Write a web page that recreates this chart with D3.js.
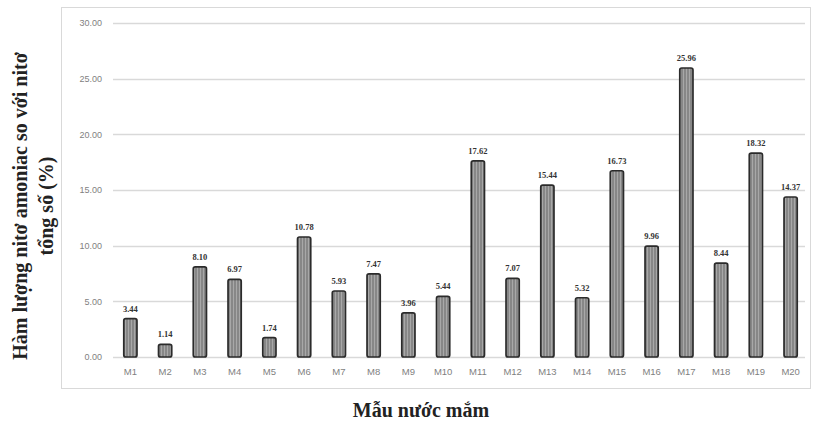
<!DOCTYPE html>
<html>
<head>
<meta charset="utf-8">
<script src="https://cdn.jsdelivr.net/npm/d3@7"></script>
<style>
  html, body { margin: 0; padding: 0; background: #fff; }
  svg { display: block; }
</style>
</head>
<body>
<svg id="chart" width="813" height="425"></svg>
<script>
// Sample codes and ammonia nitrogen share of total nitrogen (%)
const samples = ["M1","M2","M3","M4","M5","M6","M7","M8","M9","M10",
                 "M11","M12","M13","M14","M15","M16","M17","M18","M19","M20"];
const ammoniaPct = [3.44, 1.14, 8.10, 6.97, 1.74, 10.78, 5.93, 7.47, 3.96, 5.44,
                    17.62, 7.07, 15.44, 5.32, 16.73, 9.96, 25.96, 8.44, 18.32, 14.37];
const yTicks = [0, 5, 10, 15, 20, 25, 30];

const yTitleLines = ["Hàm lượng nitơ amoniac so với nitơ", "tổng số (%)"];
const xTitle = "Mẫu nước mắm";

const svg = d3.select("#chart");
const plot = { left: 113, right: 808, top: 23, bottom: 357 };

// Hatched fill for the bars
const defs = svg.append("defs");
const pat = defs.append("pattern")
  .attr("id", "hatch").attr("patternUnits", "userSpaceOnUse")
  .attr("width", 3).attr("height", 3);
pat.append("rect").attr("width", 3).attr("height", 3).attr("fill", "#a8a8a8");
pat.append("line").attr("x1", 1).attr("x2", 1).attr("y1", 0).attr("y2", 3)
  .attr("stroke", "#666").attr("stroke-width", 1);

// Chart area frame
svg.append("rect")
  .attr("x", 61.5).attr("y", 7.5).attr("width", 749).attr("height", 381)
  .attr("fill", "#fff").attr("stroke", "#d9d9d9").attr("stroke-width", 1);

const x = d3.scaleBand().domain(samples).range([plot.left, plot.right]).paddingInner(0.62).paddingOuter(0.31);
const y = d3.scaleLinear().domain([0, 30]).range([plot.bottom, plot.top]);

// Gridlines
svg.append("g")
  .selectAll("line").data(yTicks).join("line")
  .attr("x1", plot.left).attr("x2", plot.right - 3)
  .attr("y1", d => Math.round(y(d)) + 0.5).attr("y2", d => Math.round(y(d)) + 0.5)
  .attr("stroke", "#d9d9d9").attr("stroke-width", 1.3);

// Y axis labels
const yAxis = d3.axisLeft(y).tickValues(yTicks).tickFormat(d3.format(".2f")).tickSize(0).tickPadding(11);
const gy = svg.append("g").attr("transform", `translate(${plot.left},0)`).call(yAxis);
gy.select(".domain").remove();
gy.selectAll("text").attr("fill", "#7f7f7f").attr("font-family", "Liberation Sans, Arial, sans-serif").attr("font-size", 9);

// X axis labels
const xAxis = d3.axisBottom(x).tickSize(0).tickPadding(11);
const gx = svg.append("g").attr("transform", `translate(0,${plot.bottom})`).call(xAxis);
gx.select(".domain").remove();
gx.selectAll("text").attr("fill", "#7f7f7f").attr("font-family", "Liberation Sans, Arial, sans-serif").attr("font-size", 9.5);

// Bars
const bars = svg.append("g");
bars.selectAll("rect").data(samples).join("rect")
  .attr("x", d => x(d))
  .attr("y", (d, i) => y(ammoniaPct[i]))
  .attr("width", x.bandwidth())
  .attr("height", (d, i) => y(0) - y(ammoniaPct[i]))
  .attr("rx", 2)
  .attr("fill", "url(#hatch)")
  .attr("stroke", "#2b2b2b").attr("stroke-width", 1.7);

// Value labels
svg.append("g").selectAll("text").data(samples).join("text")
  .attr("x", d => x(d) + x.bandwidth() / 2)
  .attr("y", (d, i) => y(ammoniaPct[i]) - 7)
  .attr("text-anchor", "middle")
  .attr("font-family", "Liberation Serif, Times New Roman, serif")
  .attr("font-weight", "bold").attr("font-size", 8.5)
  .attr("fill", "#333")
  .text((d, i) => ammoniaPct[i].toFixed(2));

// Axis titles
const yt = svg.append("text")
  .attr("transform", "translate(33,206) rotate(-90)")
  .attr("text-anchor", "middle")
  .attr("font-family", "Liberation Serif, Times New Roman, serif")
  .attr("font-weight", "bold").attr("font-size", 20).attr("fill", "#222");
yt.selectAll("tspan").data(yTitleLines).join("tspan")
  .attr("x", 0).attr("dy", (d, i) => i === 0 ? "-0.3em" : "1.3em")
  .text(d => d);

svg.append("text")
  .attr("x", 421).attr("y", 417)
  .attr("text-anchor", "middle")
  .attr("font-family", "Liberation Serif, Times New Roman, serif")
  .attr("font-weight", "bold").attr("font-size", 20).attr("fill", "#222")
  .text(xTitle);
</script>
</body>
</html>
